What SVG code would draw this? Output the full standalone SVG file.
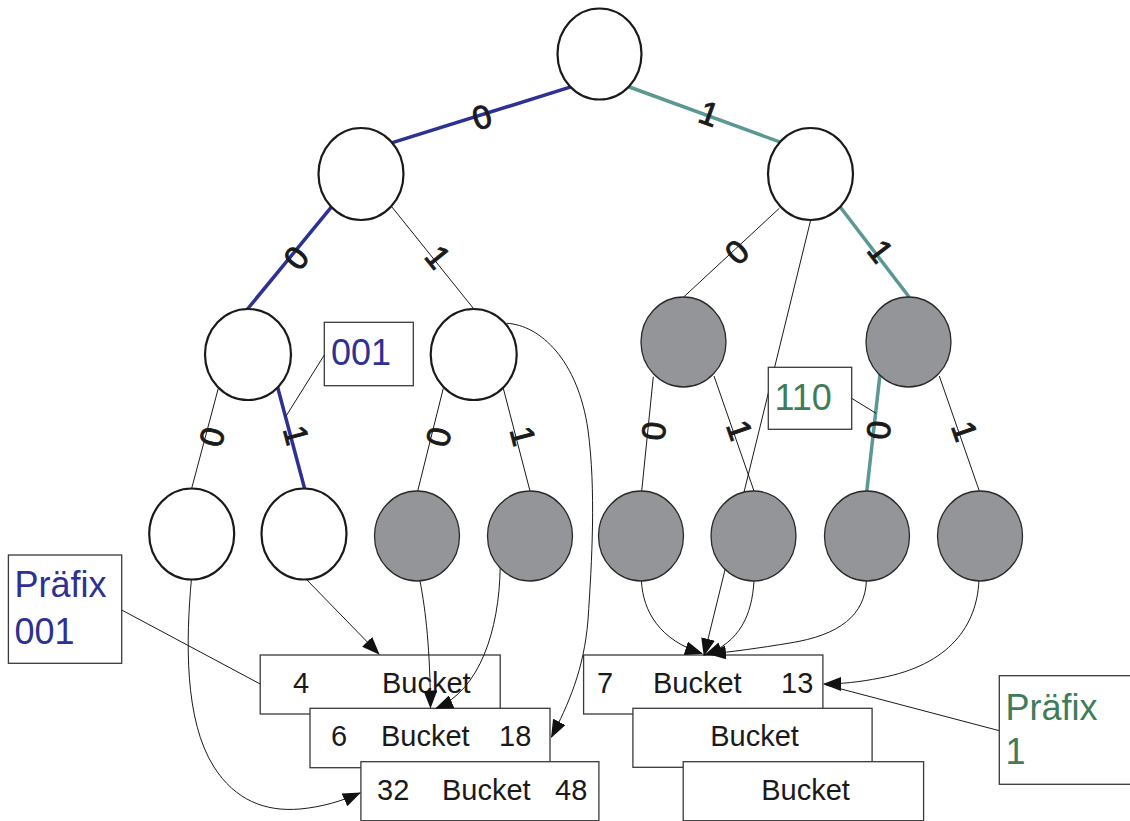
<svg xmlns="http://www.w3.org/2000/svg" width="1130" height="821" viewBox="0 0 1130 821">
<style>
.bg{fill:#ffffff}
.wn{fill:#ffffff;stroke:#1a1a1a;stroke-width:2.2}
.gn{fill:#939598;stroke:#2a2a2a;stroke-width:1.3}
.e{stroke:#1a1a1a;stroke-width:1;fill:none}
.eb{stroke:#2e3192;stroke-width:3.5;fill:none}
.et{stroke:#5b9894;stroke-width:3.5;fill:none}
.c{stroke:#1a1a1a;stroke-width:1;fill:none}
.ca{stroke:#1a1a1a;stroke-width:1;fill:none;marker-end:url(#ah)}
.box{fill:#ffffff;stroke:#3a3a3a;stroke-width:1.3}
.lbl{font-family:"Liberation Sans",Arial,sans-serif;font-size:33px;fill:#1a1a1a;stroke:#1a1a1a;stroke-width:0.9;text-anchor:middle}
.bt{font-family:"Liberation Sans",Arial,sans-serif;font-size:29px;fill:#1a1a1a}
.big{font-family:"Liberation Sans",Arial,sans-serif;font-size:36px}
.blue{fill:#2e3192}
.green{fill:#3f7d5a}
</style>
<defs>
<marker id="ah" markerUnits="userSpaceOnUse" markerWidth="18" markerHeight="14" refX="17" refY="7" orient="auto">
<path d="M0,0 L18,7 L0,14 z" fill="#111111"/>
</marker>
</defs>
<rect class="bg" x="0" y="0" width="1130" height="821"/>

<!-- bucket boxes (back to front) -->
<g id="bucket-4"><rect class="box" x="260.2" y="655" width="240" height="59"/><text class="bt" x="293" y="693">4</text><text class="bt" x="382" y="693">Bucket</text></g>
<g id="bucket-6"><rect class="box" x="310" y="708.3" width="240" height="59.4"/><text class="bt" x="331" y="746">6</text><text class="bt" x="381" y="746">Bucket</text><text class="bt" x="499" y="746">18</text></g>
<g id="bucket-32"><rect class="box" x="360.9" y="761.7" width="238" height="59"/><text class="bt" x="377" y="799.5">32</text><text class="bt" x="442" y="799.5">Bucket</text><text class="bt" x="555" y="799.5">48</text></g>
<g id="bucket-7"><rect class="box" x="583.6" y="655" width="239.3" height="59"/><text class="bt" x="597" y="693">7</text><text class="bt" x="653" y="693">Bucket</text><text class="bt" x="781" y="693">13</text></g>
<g id="bucket-b2"><rect class="box" x="632.9" y="708.3" width="239.2" height="59"/><text class="bt" x="754.5" y="746" text-anchor="middle">Bucket</text></g>
<g id="bucket-b3"><rect class="box" x="683.2" y="761.7" width="240.4" height="59"/><text class="bt" x="805.5" y="799.5" text-anchor="middle">Bucket</text></g>

<!-- connectors -->
<g id="connectors">
<line class="eb" x1="571.7" y1="86.7" x2="390" y2="143.3"/>
<line class="et" x1="628" y1="86.5" x2="781.7" y2="142.7"/>
<line class="eb" x1="331.7" y1="206.7" x2="246.7" y2="310"/>
<line class="e" x1="391.7" y1="206.7" x2="473.3" y2="308.3"/>
<line class="e" x1="779.3" y1="208.3" x2="684" y2="296.7"/>
<line class="et" x1="840" y1="206.7" x2="909.3" y2="297.3"/>
<line class="e" x1="218.3" y1="388.3" x2="191.7" y2="488.3"/>
<line class="eb" x1="277.3" y1="386" x2="305" y2="490"/>
<line class="e" x1="443.3" y1="388.3" x2="417.7" y2="491"/>
<line class="e" x1="503.3" y1="388.3" x2="530" y2="491"/>
<line class="e" x1="653.3" y1="376.7" x2="641.7" y2="491"/>
<line class="e" x1="714" y1="376" x2="754" y2="491"/>
<line class="et" x1="880" y1="374.3" x2="866.7" y2="491.7"/>
<line class="e" x1="939.3" y1="376" x2="979.3" y2="491"/>

<!-- leaf to bucket pointers -->
<path class="ca" d="M191.4,579.3 C186,640 184,720 214,767 C235,800 265,812 300,809 C322,807 342,801 360,793"/>
<path class="ca" d="M306,579 L379,654"/>
<path class="ca" d="M420,581 C426,612 430,650 430.5,707.5"/>
<path class="ca" d="M500.2,568.3 C499,630 480,690 436,708.3"/>
<path class="ca" d="M506.7,323.3 C540,325 578,360 588,430 C596,490 592,560 588,620 C584,670 568,705 551.5,737"/>
<path class="ca" d="M641.4,580.7 C643,612 660,640 702,653.5"/>
<path class="ca" d="M810.7,220 L704,655.5"/>
<path class="ca" d="M754,580.7 C752,615 740,642 705,655"/>
<path class="ca" d="M866.4,580.7 C865,615 840,635 790,643 C760,648 730,652 709,654"/>
<path class="ca" d="M978.9,580.7 C977,625 950,665 880,678 C860,682 840,684 824,684"/>

<!-- annotation leaders -->
<line class="c" x1="121.7" y1="610" x2="260.2" y2="684"/>
<line class="c" x1="999.3" y1="730.7" x2="826" y2="685"/>
<line class="c" x1="324.3" y1="355" x2="285.7" y2="416.7"/>
<line class="c" x1="851.7" y1="398.3" x2="876" y2="413.3"/>
</g>

<!-- nodes -->
<g id="n-root"><ellipse class="wn" cx="599.5" cy="54" rx="42" ry="45.5"/></g>
<g id="n-0"><ellipse class="wn" cx="361" cy="174" rx="42.5" ry="46"/></g>
<g id="n-1"><ellipse class="wn" cx="810.5" cy="174" rx="42.5" ry="46"/></g>
<g id="n-00"><ellipse class="wn" cx="248" cy="354.5" rx="43" ry="45.5"/></g>
<g id="n-01"><ellipse class="wn" cx="473.7" cy="354.5" rx="43" ry="45.5"/></g>
<g id="n-10"><ellipse class="gn" cx="683.5" cy="342" rx="42.5" ry="45"/></g>
<g id="n-11"><ellipse class="gn" cx="908.5" cy="342" rx="42.5" ry="45"/></g>
<g id="n-000"><ellipse class="wn" cx="191.7" cy="534" rx="42.5" ry="45.5"/></g>
<g id="n-001"><ellipse class="wn" cx="304" cy="534" rx="42.5" ry="45.5"/></g>
<g id="n-010"><ellipse class="gn" cx="417" cy="536" rx="42.5" ry="45"/></g>
<g id="n-011"><ellipse class="gn" cx="530" cy="536" rx="42.5" ry="45"/></g>
<g id="n-100"><ellipse class="gn" cx="641" cy="536" rx="42.5" ry="45"/></g>
<g id="n-101"><ellipse class="gn" cx="753.5" cy="536" rx="42.5" ry="45"/></g>
<g id="n-110"><ellipse class="gn" cx="867" cy="536" rx="42.5" ry="45"/></g>
<g id="n-111"><ellipse class="gn" cx="980" cy="536" rx="42.5" ry="45"/></g>

<!-- edge labels -->
<g id="edge-labels">
<text class="lbl" transform="translate(481.7,116.7) rotate(-17)" dy="0.36em">0</text>
<text class="lbl" transform="translate(709.3,113.3) rotate(20)" dy="0.36em">1</text>
<text class="lbl" transform="translate(296,257.7) rotate(-50.6)" dy="0.36em">0</text>
<text class="lbl" transform="translate(438.3,256.7) rotate(51.2)" dy="0.36em">1</text>
<text class="lbl" transform="translate(736.7,251.7) rotate(-42.8)" dy="0.36em">0</text>
<text class="lbl" transform="translate(880.7,250.7) rotate(52.6)" dy="0.36em">1</text>
<text class="lbl" transform="translate(211.7,436.7) rotate(-75)" dy="0.36em">0</text>
<text class="lbl" transform="translate(296.7,435) rotate(75)" dy="0.36em">1</text>
<text class="lbl" transform="translate(438.3,436.7) rotate(-76)" dy="0.36em">0</text>
<text class="lbl" transform="translate(523.3,436) rotate(75.4)" dy="0.36em">1</text>
<text class="lbl" transform="translate(653.3,431) rotate(-84.2)" dy="0.36em">0</text>
<text class="lbl" transform="translate(740,430) rotate(70.8)" dy="0.36em">1</text>
<text class="lbl" transform="translate(878.3,430) rotate(-83.5)" dy="0.36em">0</text>
<text class="lbl" transform="translate(965,431) rotate(70.8)" dy="0.36em">1</text>
</g>

<!-- annotation boxes -->
<g id="note-001"><rect class="box" x="324.3" y="322.3" width="89" height="63.4"/><text class="big blue" x="331" y="365">001</text></g>
<g id="note-110"><rect class="box" x="768.3" y="367.3" width="83.4" height="62"/><text class="big green" x="774.5" y="410">110</text></g>
<g id="note-praefix-001"><rect class="box" x="8.4" y="555" width="113.3" height="108.3"/><text class="big blue" x="14.5" y="597">Präfix</text><text class="big blue" x="14.5" y="643.5">001</text></g>
<g id="note-praefix-1"><rect class="box" x="999.3" y="675.7" width="140" height="108.6"/><text class="big green" x="1005.5" y="720">Präfix</text><text class="big green" x="1005.5" y="764">1</text></g>
</svg>
